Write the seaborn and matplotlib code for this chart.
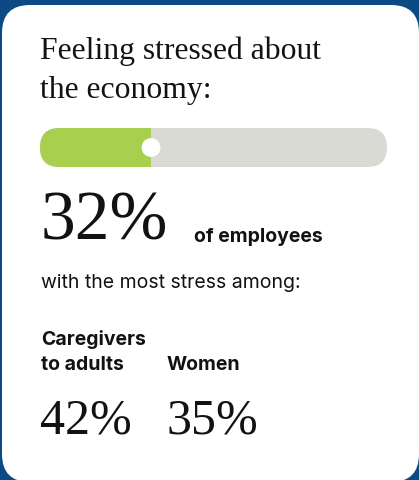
import matplotlib
matplotlib.use("Agg")
import matplotlib.pyplot as plt
from matplotlib.patches import FancyBboxPatch
import seaborn as sns

# ---- content ----
title_lines = ["Feeling stressed about", "the economy:"]
metric = ["Feeling stressed about the economy"]
share_pct = [32]
scale_max = [100]
share_label = "of employees"
subhead = "with the most stress among:"
groups = ["Caregivers\nto adults", "Women"]
group_pct = [42, 35]

# ---- style ----
W, H, DPI = 419, 480, 100
NAVY = "#0c4a85"
GREEN = "#a8cf4e"
TRACK = "#dadad5"
INK = "#121212"
SERIF = ["Liberation Serif", "DejaVu Serif"]
SANS = ["Inter", "DejaVu Sans"]

sns.set_theme(style="white")
plt.rcParams["font.family"] = SANS

fig = plt.figure(figsize=(W / DPI, H / DPI), dpi=DPI)
fig.patch.set_facecolor(NAVY)

# full-figure canvas in pixel units (y grows downward)
canvas = fig.add_axes([0, 0, 1, 1])
canvas.set_xlim(0, W)
canvas.set_ylim(H, 0)
canvas.axis("off")

card = FancyBboxPatch((2, 5), 417, 477,
                      boxstyle="round,pad=0,rounding_size=28",
                      facecolor="white", edgecolor="none")
canvas.add_patch(card)

# title
for i, line in enumerate(title_lines):
    canvas.text(40, 59 + i * 39, line, family=SERIF, fontsize=22.8,
                color=INK, va="baseline", ha="left")

# progress bar
bx, by, bw, bh = 40, 128, 347, 39
bar_ax = fig.add_axes([bx / W, 1 - (by + bh) / H, bw / W, bh / H])
sns.barplot(x=scale_max, y=metric, orient="h", color=TRACK, width=1,
            saturation=1, errorbar=None, ax=bar_ax)
sns.barplot(x=share_pct, y=metric, orient="h", color=GREEN, width=1,
            saturation=1, errorbar=None, ax=bar_ax)
bar_ax.set_xlim(0, scale_max[0])
bar_ax.set_ylim(0.5, -0.5)
bar_ax.axis("off")

pill = FancyBboxPatch((bx, by), bw, bh,
                      boxstyle=f"round,pad=0,rounding_size={bh / 2}",
                      transform=canvas.transData)
for p in bar_ax.patches:
    p.set_clip_path(pill)
    p.set_edgecolor("none")

bar_ax.scatter(share_pct, [0], s=185, color="white", edgecolors="none",
               zorder=5, clip_on=False)

# headline value
canvas.text(41, 240, f"{share_pct[0]}%", family=SERIF, fontsize=50,
            color=INK, va="baseline", ha="left")
canvas.text(194, 242, share_label, fontsize=14, fontweight="bold",
            color=INK, va="baseline", ha="left")

canvas.text(41, 288, subhead, fontsize=14, color=INK,
            va="baseline", ha="left")

# breakdown columns
col_x = [41, 167]
for x, label, pct in zip(col_x, groups, group_pct):
    lines = label.split("\n")
    for j, line in enumerate(lines):
        y = 370 - (len(lines) - 1 - j) * 25
        canvas.text(x, y, line, fontsize=14, fontweight="bold",
                    color=INK, va="baseline", ha="left")
    canvas.text(x - 1, 433, f"{pct}%", family=SERIF, fontsize=36,
                color=INK, va="baseline", ha="left")

fig.savefig("out.png", dpi=DPI, facecolor=fig.get_facecolor())
